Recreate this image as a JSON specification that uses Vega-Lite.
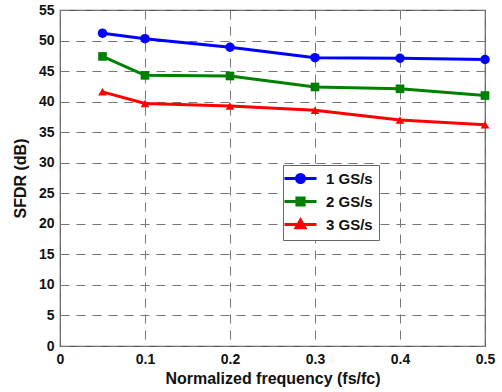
{
  "$schema": "https://vega.github.io/schema/vega-lite/v6.json",
  "width": 425,
  "height": 336,
  "autosize": {"type": "none"},
  "padding": {"left": 60, "top": 10, "right": 17, "bottom": 46},
  "background": "white",
  "config": {
    "font": "Liberation Sans",
    "view": {"stroke": "#555555", "strokeWidth": 1.2},
    "axis": {
      "labelFont": "Liberation Sans",
      "labelFontWeight": "bold",
      "labelFontSize": 14,
      "labelColor": "#111111",
      "titleFont": "Liberation Sans",
      "titleFontWeight": "bold",
      "titleFontSize": 16,
      "titleColor": "#111111",
      "grid": true,
      "gridColor": "#777777",
      "gridDash": [9, 7],
      "gridWidth": 1,
      "domain": false,
      "ticks": false
    }
  },
  "data": {
    "values": [
      {"f": 0.05, "sfdr": 51.2, "series": "1 GS/s"},
      {"f": 0.1, "sfdr": 50.3, "series": "1 GS/s"},
      {"f": 0.2, "sfdr": 48.9, "series": "1 GS/s"},
      {"f": 0.3, "sfdr": 47.2, "series": "1 GS/s"},
      {"f": 0.4, "sfdr": 47.1, "series": "1 GS/s"},
      {"f": 0.5, "sfdr": 46.9, "series": "1 GS/s"},
      {"f": 0.05, "sfdr": 47.4, "series": "2 GS/s"},
      {"f": 0.1, "sfdr": 44.3, "series": "2 GS/s"},
      {"f": 0.2, "sfdr": 44.2, "series": "2 GS/s"},
      {"f": 0.3, "sfdr": 42.4, "series": "2 GS/s"},
      {"f": 0.4, "sfdr": 42.1, "series": "2 GS/s"},
      {"f": 0.5, "sfdr": 41.0, "series": "2 GS/s"},
      {"f": 0.05, "sfdr": 41.6, "series": "3 GS/s"},
      {"f": 0.1, "sfdr": 39.7, "series": "3 GS/s"},
      {"f": 0.2, "sfdr": 39.3, "series": "3 GS/s"},
      {"f": 0.3, "sfdr": 38.6, "series": "3 GS/s"},
      {"f": 0.4, "sfdr": 37.0, "series": "3 GS/s"},
      {"f": 0.5, "sfdr": 36.2, "series": "3 GS/s"}
    ]
  },
  "encoding": {
    "x": {
      "field": "f",
      "type": "quantitative",
      "scale": {"domain": [0, 0.5], "nice": false},
      "axis": {
        "title": "Normalized frequency (fs/fc)",
        "values": [0, 0.1, 0.2, 0.3, 0.4, 0.5],
        "labelExpr": "datum.value == 0 ? '0' : format(datum.value, '.1f')",
        "labelPadding": 6,
        "titlePadding": 4,
        "labelFlush": false
      }
    },
    "y": {
      "field": "sfdr",
      "type": "quantitative",
      "scale": {"domain": [0, 55], "nice": false},
      "axis": {
        "title": "SFDR (dB)",
        "values": [0, 5, 10, 15, 20, 25, 30, 35, 40, 45, 50, 55],
        "labelPadding": 6,
        "titlePadding": 10,
        "labelFlush": false
      }
    }
  },
  "layer": [
    {
      "mark": {"type": "line", "strokeWidth": 3},
      "encoding": {
        "color": {
          "field": "series",
          "type": "nominal",
          "scale": {"domain": ["1 GS/s", "2 GS/s", "3 GS/s"], "range": ["#0000FF", "#008000", "#FF0000"]},
          "legend": {
            "title": null,
            "orient": "none",
            "legendX": 223,
            "legendY": 155,
            "fillColor": "white",
            "strokeColor": "#666666",
            "padding": 6,
            "symbolSize": 64,
            "symbolOffset": 4,
            "symbolStrokeWidth": 3,
            "labelOffset": 18,
            "labelFont": "Liberation Sans",
            "labelFontWeight": "bold",
            "labelFontSize": 15,
            "labelColor": "#111111",
            "rowPadding": 2,
            "encode": {
              "symbols": {
                "update": {
                  "shape": {"signal": "datum.value === '1 GS/s' ? 'M-4,0H4M-1,0A1,1 0 1,0 1,0A1,1 0 1,0 -1,0' : datum.value === '2 GS/s' ? 'M-4,0H4M-0.9,-0.9H0.9V0.9H-0.9Z' : 'M-4,0H4M0,-1.1L1.1,0.8H-1.1Z'"},
                  "fillOpacity": {"value": 1},
                  "fill": {"signal": "scale('color', datum.value)"}
                }
              }
            }
          }
        }
      }
    },
    {
      "transform": [{"filter": "datum.series === '1 GS/s'"}],
      "mark": {"type": "point", "filled": true, "opacity": 1, "size": 90, "shape": "circle", "color": "#0000FF"}
    },
    {
      "transform": [{"filter": "datum.series === '2 GS/s'"}],
      "mark": {"type": "point", "filled": true, "opacity": 1, "size": 75, "shape": "square", "color": "#008000"}
    },
    {
      "transform": [{"filter": "datum.series === '3 GS/s'"}],
      "mark": {"type": "point", "filled": true, "opacity": 1, "size": 75, "shape": "triangle-up", "color": "#FF0000"}
    }
  ]
}
